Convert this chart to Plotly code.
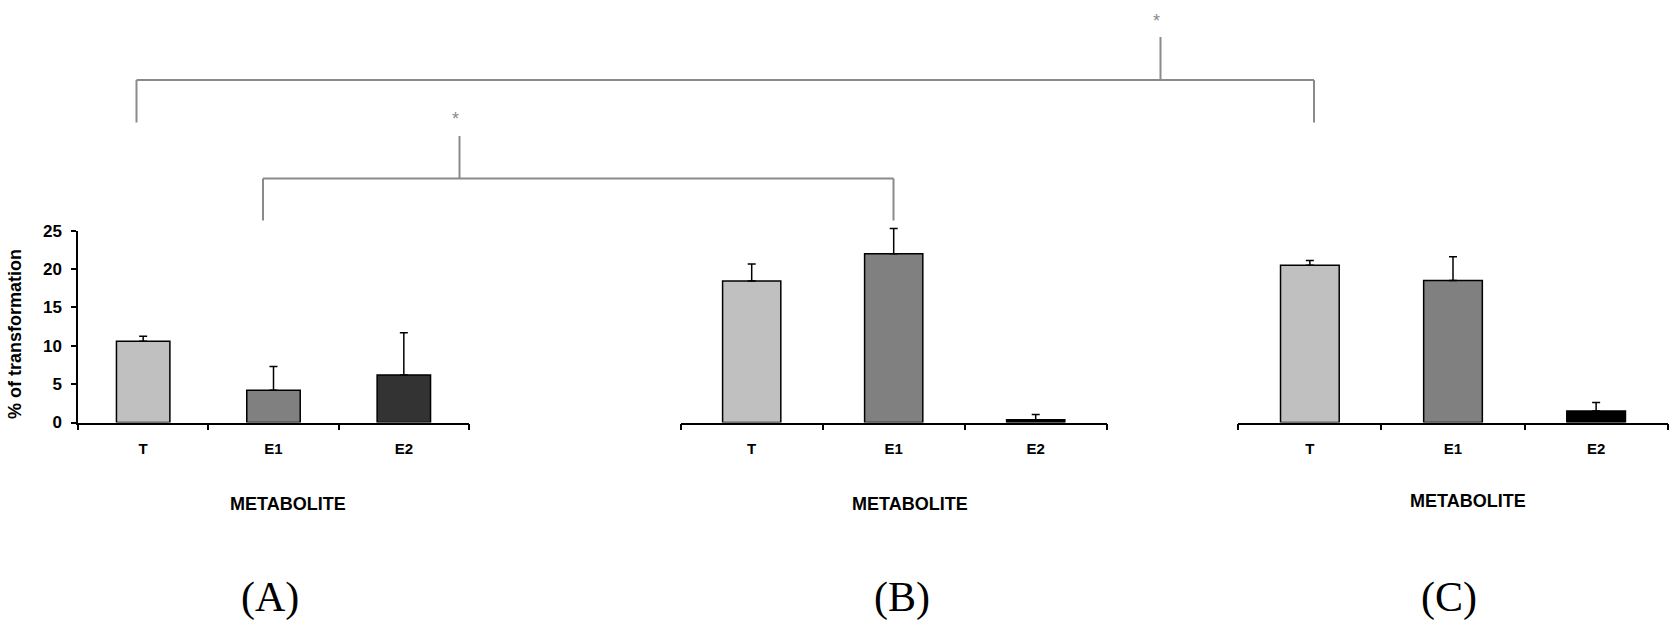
import plotly.graph_objects as go

W, H = 1671, 620

# ---- data ----
categories = ["T", "E1", "E2"]
panel_labels = ["(A)", "(B)", "(C)"]
values_A = [10.6, 4.2, 6.2]
errors_A = [0.65, 3.1, 5.5]
values_B = [18.45, 22.0, 0.35]
errors_B = [2.2, 3.3, 0.7]
values_C = [20.5, 18.5, 1.5]
errors_C = [0.6, 3.1, 1.1]
colors_A = ["#C0C0C0", "#808080", "#333333"]
colors_B = ["#C0C0C0", "#808080", "#000000"]
colors_C = ["#C0C0C0", "#808080", "#000000"]
y_ticks = [0, 5, 10, 15, 20, 25]

# ---- layout helpers (pixel -> paper) ----
def px(x):
    return x / W

def py(y):
    return 1 - y / H

y_zero_px, y_25_px = 422.5, 230.7
unit_px = (y_zero_px - y_25_px) / 25.0
ydom_A = [py(y_zero_px), py(y_25_px)]
ydom_BC = [py(y_zero_px), py(y_25_px - unit_px)]  # range 0..26

x_domains = [
    [px(78), px(469)],
    [px(680.7), px(1106.7)],
    [px(1238.3), px(1667.7)],
]

fig = go.Figure()

panels = [
    (values_A, errors_A, colors_A),
    (values_B, errors_B, colors_B),
    (values_C, errors_C, colors_C),
]

for i, (vals, errs, cols) in enumerate(panels):
    sfx = "" if i == 0 else str(i + 1)
    fig.add_trace(go.Bar(
        x=categories, y=vals,
        marker=dict(color=cols, line=dict(color="black", width=1.5)),
        error_y=dict(type="data", array=errs, arrayminus=[0] * len(errs),
                     symmetric=False, color="black", thickness=1.5, width=4),
        xaxis="x" + sfx, yaxis="y" + sfx, width=0.41,
        hoverinfo="x+y",
    ))

FONT = "Arial, Liberation Sans, sans-serif"
tickfont = dict(family=FONT, size=15, color="black", weight="bold")

layout = dict(
    width=W, height=H,
    margin=dict(l=0, r=0, t=0, b=0, pad=0),
    paper_bgcolor="white", plot_bgcolor="white",
    showlegend=False,
)

for i in range(3):
    sfx = "" if i == 0 else str(i + 1)
    layout["xaxis" + sfx] = dict(
        domain=x_domains[i], anchor="y" + sfx, automargin=False,
        type="category", range=[-0.5, 2.5],
        showline=True, linecolor="black", linewidth=1.5,
        ticks="outside", tickson="boundaries", ticklen=6, tickwidth=1.5, tickcolor="black",
        showgrid=False, zeroline=False,
        tickfont=tickfont, ticklabelstandoff=12,
    )
    if i == 0:
        layout["yaxis"] = dict(
            domain=ydom_A, anchor="x", range=[0, 25], automargin=False,
            tickvals=y_ticks, showline=True, linecolor="black", linewidth=1.5,
            ticks="outside", ticklen=5, tickwidth=1.5, tickcolor="black",
            showgrid=False, zeroline=False, ticklabelstandoff=6,
            tickfont=dict(family=FONT, size=17, color="black", weight="bold"),
        )
    else:
        layout["yaxis" + sfx] = dict(
            domain=ydom_BC, anchor="x" + sfx, range=[0, 26], automargin=False,
            visible=False, showgrid=False, zeroline=False,
        )

fig.update_layout(**layout)

def note(text, x, y, font, **kw):
    fig.add_annotation(text=text, x=px(x), y=py(y), xref="paper", yref="paper",
                       xanchor="center", yanchor="middle", showarrow=False, font=font, **kw)

# ---- text annotations ----
note("% of transformation", 15, 334, dict(family=FONT, size=18, color="black", weight="bold"),
     textangle=-90)

metab_pos = [(288, 504), (910, 504), (1468, 501)]
for (mx, my) in metab_pos:
    note("METABOLITE", mx, my, dict(family=FONT, size=18, color="black", weight="bold"))

label_pos = [(270, 597), (902, 597), (1449, 597)]
for lab, (lx, ly) in zip(panel_labels, label_pos):
    note(lab, lx, ly, dict(family="Liberation Serif, Times New Roman, serif", size=42, color="black"))

# ---- significance brackets (A:T vs C:T, A:E1 vs B:E1) ----
gray = "#8a8a8a"
brackets = [
    # left_x, right_x, bar_y, leg_bottom, stem_x, stem_top, star_x, star_y
    (136.5, 1314, 80, 122.5, 1160.5, 37, 1156, 21),
    (263, 893.5, 178.5, 220.5, 459.5, 136, 455, 119),
]
for (lx, rx, by, lb, sx, st, stx, sty) in brackets:
    for (x0, y0, x1, y1) in [(lx, by, rx, by), (lx, by, lx, lb), (rx, by, rx, lb), (sx, st, sx, by)]:
        fig.add_shape(type="line", xref="paper", yref="paper",
                      x0=px(x0), y0=py(y0), x1=px(x1), y1=py(y1),
                      line=dict(color=gray, width=2))
    note("*", stx, sty, dict(family=FONT, size=18, color=gray))

page_css = "document.body.style.margin='0';"
fig.write_html("out.html", config={"displayModeBar": False}, post_script=page_css)
